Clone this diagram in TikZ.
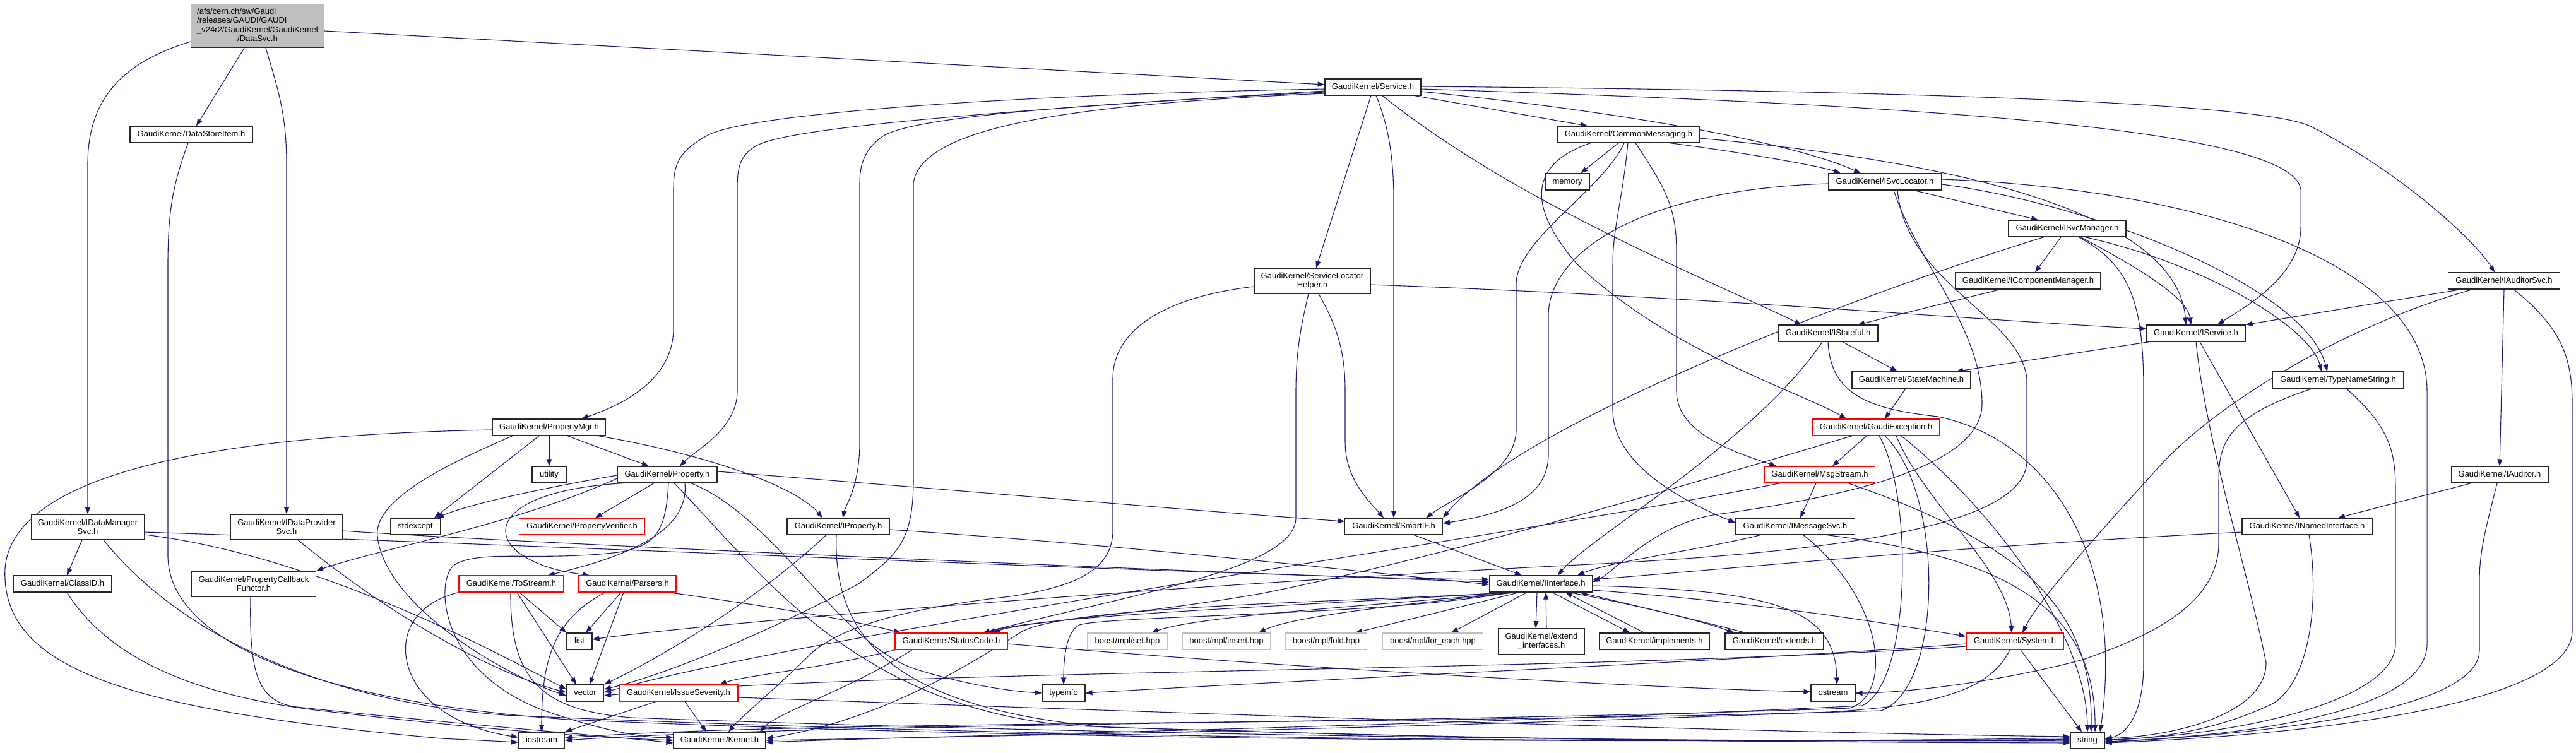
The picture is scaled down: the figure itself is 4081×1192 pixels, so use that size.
\documentclass[tikz,border=0pt]{standalone}
\usepackage{fontspec}
\setmainfont{Liberation Sans}
\usetikzlibrary{arrows.meta,backgrounds}
\definecolor{edgec}{HTML}{191970}
\definecolor{rootgray}{HTML}{BFBFBF}
\definecolor{boxgray}{HTML}{BFBFBF}
\newcommand\nf{\fontsize{13}{14.5}\selectfont}
\tikzset{
 nbase/.style={draw=black!85, line width=1.1pt, fill=white, inner sep=0pt, font=\nf, align=center},
 n/.style={nbase, minimum height=26pt, text height=9.5pt, text depth=2.7pt},
 nn/.style={nbase, minimum height=40pt},
 rb/.style={draw=red},
 gb/.style={draw=boxgray},
 e/.style={draw=edgec, line width=1.1pt, -{Triangle[length=11pt,width=8pt]}},
}
\begin{document}
\begin{tikzpicture}[x=1pt,y=-1pt]
\path[use as bounding box] (0,0) rectangle (4081,1192);
% ---------- nodes ----------
\node[nbase, fill=rootgray, minimum width=211pt, minimum height=69pt] (root) at (408,41)
 {\begin{tabular}{@{}l@{}}/afs/cern.ch/sw/Gaudi\\/releases/GAUDI/GAUDI\\\_v24r2/GaudiKernel/GaudiKernel\\\multicolumn{1}{@{}c@{}}{/DataSvc.h}\end{tabular}};
\node[n, minimum width=152pt] (svc) at (2175,138) {GaudiKernel/Service.h};
\node[n, minimum width=194pt] (dsi) at (303,213) {GaudiKernel/DataStoreItem.h};
\node[n, minimum width=224pt] (cm) at (2580,213) {GaudiKernel/CommonMessaging.h};
\node[n, minimum width=70pt] (memory) at (2483,288) {memory};
\node[n, minimum width=179pt] (isl) at (2986,288) {GaudiKernel/ISvcLocator.h};
\node[n, minimum width=186pt] (ism) at (3275,362) {GaudiKernel/ISvcManager.h};
\node[nn, minimum width=184pt] (slh) at (2079,445) {GaudiKernel/ServiceLocator\\Helper.h};
\node[n, minimum width=230pt] (icm) at (3213,445) {GaudiKernel/IComponentManager.h};
\node[n, minimum width=177pt] (ias) at (3967,445) {GaudiKernel/IAuditorSvc.h};
\node[n, minimum width=158pt] (ist) at (2896,528) {GaudiKernel/IStateful.h};
\node[n, minimum width=156pt] (isv) at (3479,528) {GaudiKernel/IService.h};
\node[n, minimum width=188pt] (sm) at (3028,602) {GaudiKernel/StateMachine.h};
\node[n, minimum width=207pt] (tns) at (3704,602) {GaudiKernel/TypeNameString.h};
\node[n, minimum width=179pt] (pmgr) at (870,677) {GaudiKernel/PropertyMgr.h};
\node[n, rb, minimum width=201pt] (gex) at (2972,677) {GaudiKernel/GaudiException.h};
\node[n, minimum width=54pt] (utility) at (870,752) {utility};
\node[n, minimum width=158pt] (prop) at (1057,752) {GaudiKernel/Property.h};
\node[n, rb, minimum width=175pt] (msg) at (2883,752) {GaudiKernel/MsgStream.h};
\node[n, minimum width=154pt] (iaud) at (3960,752) {GaudiKernel/IAuditor.h};
\node[nn, minimum width=179pt] (dmsvc) at (139,835) {GaudiKernel/IDataManager\\Svc.h};
\node[nn, minimum width=177pt] (dpsvc) at (454,835) {GaudiKernel/IDataProvider\\Svc.h};
\node[n, minimum width=79pt] (stdexcept) at (658,834) {stdexcept};
\node[n, rb, minimum width=199pt] (pver) at (922,834) {GaudiKernel/PropertyVerifier.h};
\node[n, minimum width=162pt] (iprop) at (1328,834) {GaudiKernel/IProperty.h};
\node[n, minimum width=155pt] (smartif) at (2208,834) {GaudiKernel/SmartIF.h};
\node[n, minimum width=189pt] (imsg) at (2844,834) {GaudiKernel/IMessageSvc.h};
\node[n, minimum width=206pt] (inamed) at (3655,834) {GaudiKernel/INamedInterface.h};
\node[n, minimum width=156pt] (classid) at (99,925) {GaudiKernel/ClassID.h};
\node[nn, minimum width=197pt] (pcf) at (402,925) {GaudiKernel/PropertyCallback\\Functor.h};
\node[n, rb, minimum width=166pt] (tostream) at (810,925) {GaudiKernel/ToStream.h};
\node[n, rb, minimum width=154pt] (parsers) at (994,925) {GaudiKernel/Parsers.h};
\node[n, minimum width=163pt] (iint) at (2441,925) {GaudiKernel/IInterface.h};
\node[n, minimum width=40pt] (list) at (918,1016) {list};
\node[n, rb, minimum width=178pt] (sc) at (1507,1016) {GaudiKernel/StatusCode.h};
\node[n, gb, minimum width=127pt] (bset) at (1786,1016) {boost/mpl/set.hpp};
\node[n, gb, minimum width=140pt] (bins) at (1943,1016) {boost/mpl/insert.hpp};
\node[n, gb, minimum width=129pt] (bfold) at (2101,1016) {boost/mpl/fold.hpp};
\node[n, gb, minimum width=159pt] (bfe) at (2270,1016) {boost/mpl/for\_each.hpp};
\node[nn, minimum width=136pt, minimum height=41pt] (eif) at (2442,1016) {GaudiKernel/extend\\\_interfaces.h};
\node[n, minimum width=175pt] (impl) at (2621,1016) {GaudiKernel/implements.h};
\node[n, minimum width=156pt] (extends) at (2811,1016) {GaudiKernel/extends.h};
\node[n, rb, minimum width=154pt] (sys) at (3192,1016) {GaudiKernel/System.h};
\node[n, minimum width=59pt] (vector) at (927,1098) {vector};
\node[n, rb, minimum width=188pt] (isev) at (1075,1098) {GaudiKernel/IssueSeverity.h};
\node[n, minimum width=68pt] (typeinfo) at (1685,1098) {typeinfo};
\node[n, minimum width=70pt] (ostream) at (2904,1098) {ostream};
\node[n, minimum width=73pt] (iostream) at (858,1173) {iostream};
\node[n, minimum width=146pt] (kernel) at (1140,1173) {GaudiKernel/Kernel.h};
\node[n, minimum width=54pt] (string) at (3307,1173) {string};
% ---------- edges ----------
\begin{scope}[on background layer]
% root
\draw[e] ([yshift=-25pt]root.west) .. controls (190,100) and (139,160) .. (139,260) -- (dmsvc.north);
\draw[e] ([xshift=-21pt]root.south) -- ([xshift=8pt]dsi.north);
\draw[e] ([xshift=13pt]root.south) .. controls (440,140) and (454,180) .. (454,260) -- (dpsvc.north);
\draw[e] ([yshift=-8pt]root.east) -- ([yshift=4pt]svc.west);
% dsi
\draw[e] ([xshift=-5pt]dsi.south) .. controls (275,290) and (266,330) .. (266,420) -- (266,880) .. controls (266,1010) and (480,1110) .. (900,1140) .. controls (1800,1180) and (2900,1176) .. ([yshift=4pt]string.west);
% dmsvc
\draw[e] ([xshift=-9pt]dmsvc.south) -- ([xshift=7pt]classid.north);
\draw[e] ([yshift=-8pt]dmsvc.east) .. controls (900,865) and (2000,915) .. ([yshift=7pt]iint.west);
\draw[e] ([yshift=-12pt]dmsvc.east) .. controls (500,880) and (780,1030) .. ([yshift=6pt]vector.west);
\draw[e] ([xshift=25pt]dmsvc.south) .. controls (280,1000) and (500,1110) .. (800,1133) .. controls (1800,1178) and (2900,1176) .. ([yshift=2pt]string.west);
% classid
\draw[e] ([xshift=7pt]classid.south) .. controls (170,1040) and (300,1100) .. (500,1125) .. controls (800,1160) and (950,1168) .. (kernel.west);
% dpsvc
\draw[e] ([yshift=-6pt]dpsvc.east) .. controls (900,865) and (2000,910) .. ([yshift=3pt]iint.west);
\draw[e] ([xshift=18pt]dpsvc.south) .. controls (600,960) and (760,1060) .. ([yshift=1pt]vector.west);
% pmgr
\draw[e] (pmgr.south) -- (utility.north);
\draw[e] ([xshift=29pt]pmgr.south) -- ([xshift=-29pt]prop.north);
\draw[e] ([xshift=78pt]pmgr.south) .. controls (1120,720) and (1260,770) .. ([xshift=-25pt]iprop.north);
\draw[e] ([xshift=-16pt]pmgr.south) -- ([xshift=30pt]stdexcept.north);
\draw[e] ([xshift=-58pt]pmgr.south) .. controls (720,730) and (590,790) .. (598,850) .. controls (610,960) and (800,1070) .. ([yshift=-4pt]vector.west);
\draw[e] ([yshift=-4pt]pmgr.west) .. controls (300,690) and (20,760) .. (8,900) .. controls (0,1060) and (200,1125) .. (700,1170) -- ([yshift=-3pt]iostream.west);
% prop
\draw[e] ([xshift=-21pt]prop.south) -- ([xshift=21pt]pver.north);
\draw[e] ([xshift=28pt]prop.south) .. controls (1092,840) and (1000,880) .. ([xshift=58pt]tostream.north);
\draw[e] ([xshift=-69pt]prop.south) .. controls (740,780) and (760,890) .. ([xshift=-60pt]parsers.north);
\draw[e] ([yshift=-6pt]prop.west) .. controls (820,830) and (600,870) .. (pcf.north east);
\draw[e] ([yshift=-1pt]prop.west) .. controls (850,775) and (740,800) .. ([xshift=34pt]stdexcept.north);
\draw[e] ([xshift=2pt]prop.south) .. controls (1055,840) and (1040,865) .. (980,875) .. controls (850,890) and (760,870) .. (720,895) .. controls (690,915) and (690,1060) .. (860,1125) .. controls (960,1160) and (1030,1170) .. ([yshift=5pt]kernel.west);
\draw[e] ([xshift=11pt]prop.south) .. controls (1200,900) and (1350,1120) .. (1700,1150) .. controls (2500,1178) and (3000,1176) .. ([yshift=-2pt]string.west);
\draw[e] ([xshift=38pt]prop.south) .. controls (1230,820) and (1330,1020) .. (1450,1060) .. controls (1530,1085) and (1600,1095) .. (typeinfo.west);
\draw[e] ([yshift=5pt]prop.east) .. controls (1500,775) and (1900,810) .. ([yshift=8pt]smartif.west);
% iprop
\draw[e] ([yshift=-5pt]iprop.east) .. controls (1800,865) and (2150,905) .. ([yshift=-1pt]iint.west);
\draw[e] ([xshift=-19pt]iprop.south) .. controls (1200,950) and (1050,1040) .. (vector.north east);
\draw[e] ([xshift=-3pt]iprop.south) .. controls (1320,1000) and (1400,1120) .. (1750,1152) .. controls (2500,1176) and (3000,1176) .. ([yshift=-4pt]string.west);
% pcf
\draw[e] ([xshift=-5pt]pcf.south) .. controls (395,1060) and (405,1112) .. (470,1120) .. controls (700,1145) and (950,1165) .. ([yshift=-4pt]kernel.west);
% tostream
\draw[e] ([xshift=13pt]tostream.south) -- (list.north west);
\draw[e] ([xshift=9pt]tostream.south) -- ([xshift=-14pt]vector.north);
\draw[e] (tostream.south west) .. controls (640,960) and (625,1030) .. (660,1085) .. controls (700,1145) and (780,1162) .. ([yshift=5pt]iostream.west);
\draw[e] ([xshift=-1pt]tostream.south) .. controls (808,1080) and (860,1125) .. (1000,1137) .. controls (1900,1170) and (2900,1176) .. (string.west);
% parsers
\draw[e] ([xshift=-10pt]parsers.south) -- ([xshift=10pt]list.north);
\draw[e] ([xshift=-6pt]parsers.south) -- ([xshift=7pt]vector.north);
\draw[e] ([xshift=-35pt]parsers.south) .. controls (880,980) and (858,1040) .. (iostream.north);
\draw[e] ([xshift=65pt]parsers.south) .. controls (1250,965) and (1360,985) .. ([xshift=-80pt]sc.north);
% sc
\draw[e] ([xshift=-89pt]sc.south) .. controls (1300,1060) and (1180,1070) .. ([xshift=65pt]isev.north);
\draw[e] ([xshift=-62pt]sc.south) .. controls (1350,1090) and (1230,1130) .. ([xshift=64pt]kernel.north);
\draw[e] ([yshift=-4pt]sc.east) .. controls (2000,1055) and (2600,1090) .. ([yshift=2pt]ostream.west);
% isev
\draw[e] ([xshift=10pt]isev.south) -- ([xshift=-21pt]kernel.north);
\draw[e] ([xshift=-36pt]isev.south) -- (iostream.north east);
\draw[e] ([yshift=-7pt]isev.east) .. controls (1600,1120) and (2700,1160) .. ([yshift=6pt]string.west);
% iint
\draw[e] ([xshift=-44pt]iint.south) .. controls (2100,955) and (1700,960) .. (1620,1000) .. controls (1540,1050) and (1400,1140) .. ([yshift=3pt]kernel.east);
\draw[e] ([xshift=-47pt]iint.south) .. controls (2050,960) and (1650,975) .. ([xshift=58pt]sc.north);
\draw[e] ([xshift=-50pt]iint.south) .. controls (2200,975) and (1760,975) .. (1710,990) .. controls (1690,1000) and (1685,1040) .. (typeinfo.north);
\draw[e] ([xshift=-42pt]iint.south) .. controls (2200,958) and (1900,975) .. ([xshift=38pt]bset.north);
\draw[e] ([xshift=-38pt]iint.south) .. controls (2250,955) and (2050,975) .. ([xshift=51pt]bins.north);
\draw[e] ([xshift=-34pt]iint.south) -- ([xshift=46pt]bfold.north);
\draw[e] ([xshift=-22pt]iint.south) -- ([xshift=29pt]bfe.north);
\draw[e] ([xshift=-6pt]iint.south) -- ([xshift=-9pt]eif.north);
\draw[e] ([xshift=8pt]eif.north) -- ([xshift=8pt]iint.south);
\draw[e] ([xshift=18pt]iint.south) -- ([xshift=-39pt]impl.north);
\draw[e] ([xshift=-16pt]impl.north) -- ([xshift=39pt]iint.south);
\draw[e] ([xshift=45pt]iint.south) .. controls (2600,960) and (2700,985) .. ([xshift=-64pt]extends.north);
\draw[e] ([xshift=-46pt]extends.north) .. controls (2700,985) and (2600,962) .. ([xshift=62pt]iint.south);
\draw[e] ([yshift=-3pt]iint.east) .. controls (2800,935) and (2908,960) .. ([xshift=6pt]ostream.north);
\draw[e] ([yshift=-10pt]iint.east) .. controls (2800,955) and (3000,990) .. ([yshift=8pt]sys.west);
% smartif
\draw[e] ([xshift=32pt]smartif.south) -- ([xshift=-30pt]iint.north);
% sys
\draw[e] ([xshift=-8pt]sys.south) .. controls (3150,1100) and (3050,1118) .. (2900,1128) .. controls (2200,1155) and (1500,1168) .. (kernel.east);
\draw[e] ([xshift=9pt]sys.south) -- ([xshift=-9pt]string.north);
\draw[e] ([yshift=-4pt]sys.west) .. controls (2800,1045) and (2100,1075) .. (typeinfo.east);
\draw[e] ([yshift=-8pt]sys.west) .. controls (2500,1065) and (1400,1060) .. ([yshift=-4pt]vector.east);
% gex
\draw[e] ([xshift=-15pt]gex.south) -- ([xshift=20pt]msg.north);
\draw[e] ([xshift=-38pt]gex.south) .. controls (2700,760) and (2300,880) .. (2000,940) .. controls (1800,975) and (1620,985) .. ([xshift=66pt]sc.north);
\draw[e] ([xshift=5pt]gex.south) .. controls (3030,780) and (3030,1080) .. (2950,1118) .. controls (2300,1150) and (1500,1165) .. ([yshift=-3pt]kernel.east);
\draw[e] ([xshift=14pt]gex.south) .. controls (3080,780) and (3080,1090) .. (2980,1126) .. controls (2200,1150) and (1300,1140) .. ([yshift=4pt]iostream.east);
\draw[e] ([xshift=32pt]gex.south) .. controls (3050,800) and (3180,900) .. ([xshift=-5pt]sys.north);
\draw[e] ([xshift=40pt]gex.south) .. controls (3150,800) and (3305,1000) .. (string.north);
% sm
\draw[e] ([xshift=-9pt]sm.south) -- ([xshift=14pt]gex.north);
% msg
\draw[e] ([xshift=-6pt]msg.south) -- ([xshift=8pt]imsg.north);
\draw[e] ([xshift=45pt]msg.south) .. controls (3200,860) and (3315,960) .. ([xshift=6pt]string.north);
\draw[e] ([xshift=-63pt]msg.south) .. controls (2400,850) and (1300,1000) .. ([yshift=1pt]vector.east);
% imsg
\draw[e] ([xshift=-55pt]imsg.south) .. controls (2700,870) and (2550,890) .. ([xshift=58pt]iint.north);
\draw[e] ([xshift=50pt]imsg.south) .. controls (3150,880) and (3320,950) .. ([xshift=12pt]string.north);
\draw[e] ([xshift=13pt]imsg.south) .. controls (2985,950) and (3000,1100) .. (2930,1122) .. controls (2200,1148) and (1300,1145) .. (iostream.east);
% ist
\draw[e] ([xshift=23pt]ist.south) -- ([xshift=-22pt]sm.north);
\draw[e] ([xshift=-9pt]ist.south) .. controls (2780,700) and (2520,850) .. ([xshift=27pt]iint.north);
\draw[e] (ist.south) .. controls (2900,625) and (2960,648) .. (3070,660) .. controls (3260,700) and (3365,900) .. ([xshift=20pt]string.north);
% icm
\draw[e] ([xshift=-44pt]icm.south) -- ([xshift=47pt]ist.north);
% ism
\draw[e] ([xshift=-10pt]ism.south) -- ([xshift=11pt]icm.north);
\draw[e] ([xshift=-37pt]ism.south) .. controls (2900,480) and (2400,680) .. (smartif.north east);
\draw[e] ([xshift=21pt]ism.south) .. controls (3380,420) and (3465,470) .. ([xshift=-8pt]isv.north);
\draw[e] ([xshift=28pt]ism.south) .. controls (3500,420) and (3660,520) .. ([xshift=-26pt]tns.north);
\draw[e] ([xshift=18pt]ism.south) .. controls (3375,420) and (3396,480) .. (3396,620) -- (3396,1050) .. controls (3396,1130) and (3370,1163) .. ([yshift=2pt]string.east);
% isl
\draw[e] ([xshift=46pt]isl.south) -- ([xshift=-46pt]ism.north);
\draw[e] ([yshift=-3pt]isl.west) .. controls (2600,300) and (2453,400) .. (2453,500) -- (2453,720) .. controls (2453,790) and (2380,815) .. ([yshift=5pt]smartif.east);
\draw[e] ([xshift=14pt]isl.south) .. controls (3040,420) and (3140,520) .. (3140,640) .. controls (3140,745) and (2900,790) .. (2720,815) .. controls (2620,830) and (2560,905) .. ([yshift=3pt]iint.east);
\draw[e] ([xshift=20pt]isl.south) .. controls (3020,450) and (3200,500) .. (3211,600) -- (3211,730) .. controls (3211,850) and (2800,880) .. (2500,895) .. controls (1800,930) and (1100,990) .. ([yshift=3pt]list.east);
\draw[e] ([yshift=-4pt]isl.east) .. controls (3300,320) and (3650,450) .. ([xshift=-17pt]tns.north);
\draw[e] ([yshift=4pt]isl.east) .. controls (3500,300) and (3845,420) .. (3845,620) -- (3845,1020) .. controls (3845,1140) and (3500,1168) .. ([yshift=-2pt]string.east);
% cm
\draw[e] ([xshift=-16pt]cm.south) -- ([xshift=21pt]memory.north);
\draw[e] ([xshift=65pt]cm.south) .. controls (2750,240) and (2880,262) .. ([xshift=-70pt]isl.north);
\draw[e] ([yshift=-6pt]cm.east) .. controls (3150,260) and (3450,350) .. ([xshift=-16pt]isv.north);
\draw[e] ([xshift=11pt]cm.south) .. controls (2640,300) and (2656,330) .. (2656,400) -- (2656,620) .. controls (2656,690) and (2760,720) .. ([xshift=-69pt]msg.north);
\draw[e] ([xshift=-1pt]cm.south) .. controls (2570,320) and (2555,360) .. (2555,420) -- (2555,650) .. controls (2555,740) and (2680,800) .. ([yshift=6pt]imsg.west);
\draw[e] ([xshift=-7pt]cm.south) .. controls (2540,300) and (2402,380) .. (2402,450) -- (2402,680) .. controls (2402,750) and (2300,790) .. ([xshift=51pt]smartif.north);
\draw[e] ([xshift=-60pt]cm.south) .. controls (2420,260) and (2420,330) .. (2500,420) .. controls (2650,560) and (2850,620) .. ([xshift=-47pt]gex.north);
% svc
\draw[e] ([xshift=-3pt]svc.south) -- ([xshift=6pt]slh.north);
\draw[e] ([xshift=5pt]svc.south) .. controls (2200,200) and (2208,250) .. (2208,320) -- (smartif.north);
\draw[e] ([xshift=15pt]svc.south) .. controls (2400,320) and (2700,440) .. ([xshift=-42pt]ist.north);
\draw[e] ([xshift=66pt]svc.south) -- ([xshift=-65pt]cm.north);
\draw[e] ([yshift=-7pt]svc.east) .. controls (2600,180) and (2850,230) .. ([xshift=-38pt]isl.north);
\draw[e] ([yshift=-3pt]svc.east) .. controls (3000,165) and (3630,200) .. (3645,300) -- (3645,360) .. controls (3645,440) and (3550,490) .. ([xshift=34pt]isv.north);
\draw[e] ([yshift=1pt]svc.east) .. controls (3200,145) and (3600,170) .. (3660,200) .. controls (3800,270) and (3920,380) .. ([xshift=-15pt]ias.north);
\draw[e] ([yshift=-3pt]svc.west) .. controls (1600,150) and (1180,180) .. (1120,215) .. controls (1075,240) and (1067,260) .. (1067,300) -- (1067,520) .. controls (1067,600) and (990,640) .. ([xshift=51pt]pmgr.north);
\draw[e] ([yshift=-6pt]svc.west) .. controls (1500,180) and (1250,205) .. (1200,230) .. controls (1172,245) and (1168,265) .. (1168,300) -- (1168,620) .. controls (1168,680) and (1100,715) .. ([xshift=20pt]prop.north);
\draw[e] ([yshift=-8pt]svc.west) .. controls (1600,170) and (1440,192) .. (1400,215) .. controls (1370,235) and (1362,260) .. (1362,290) -- (1362,700) .. controls (1362,770) and (1340,800) .. ([xshift=7pt]iprop.north);
\draw[e] ([yshift=-10pt]svc.west) .. controls (1700,165) and (1460,200) .. (1447,290) -- (1447,760) .. controls (1447,860) and (1420,880) .. (1360,925) .. controls (1200,1010) and (1050,1070) .. ([yshift=6pt]vector.east);
% slh
\draw[e] ([yshift=-6pt]slh.east) .. controls (2700,470) and (3100,505) .. ([yshift=7pt]isv.west);
\draw[e] ([xshift=10pt]slh.south) .. controls (2120,520) and (2131,560) .. (2131,620) -- (2131,700) .. controls (2131,760) and (2170,795) .. ([xshift=-16pt]smartif.north);
\draw[e] ([xshift=-6pt]slh.south) .. controls (2060,520) and (2053,560) .. (2053,620) -- (2053,820) .. controls (2053,900) and (1800,940) .. ([xshift=50pt]sc.north);
\draw[e] ([yshift=-9pt]slh.west) .. controls (1850,470) and (1763,520) .. (1763,600) -- (1763,840) .. controls (1763,905) and (1700,930) .. (1600,945) .. controls (1450,962) and (1330,990) .. (1280,1040) .. controls (1230,1090) and (1180,1130) .. ([xshift=14pt]kernel.north);
% ias
\draw[e] ([xshift=-68pt]ias.south) -- (isv.north east);
\draw[e] ([xshift=-50pt]ias.south) .. controls (3700,520) and (3500,650) .. (3420,740) .. controls (3320,850) and (3230,950) .. ([xshift=12pt]sys.north);
\draw[e] (ias.south) -- (iaud.north);
\draw[e] ([xshift=15pt]ias.south) .. controls (4060,520) and (4075,570) .. (4075,640) -- (4075,1000) .. controls (4075,1110) and (3700,1163) .. ([yshift=-4pt]string.east);
% iaud
\draw[e] ([xshift=-45pt]iaud.south) -- ([xshift=49pt]inamed.north);
\draw[e] ([xshift=-4pt]iaud.south) .. controls (3940,830) and (3928,870) .. (3928,920) -- (3928,1030) .. controls (3928,1125) and (3600,1162) .. ([yshift=-3pt]string.east);
% inamed
\draw[e] ([yshift=-9pt]inamed.west) .. controls (3100,865) and (2700,905) .. ([yshift=7pt]iint.east);
\draw[e] ([xshift=3pt]inamed.south) .. controls (3675,950) and (3660,1080) .. (3600,1115) .. controls (3500,1163) and (3400,1170) .. (string.east);
% isv
\draw[e] ([xshift=6pt]isv.south) -- ([xshift=-12pt]inamed.north);
\draw[e] ([xshift=-74pt]isv.south) -- ([xshift=71pt]sm.north);
\draw[e] (isv.south) .. controls (3495,700) and (3560,900) .. (3590,1050) .. controls (3590,1130) and (3450,1166) .. ([yshift=3pt]string.east);
% tns
\draw[e] ([xshift=13pt]tns.south) .. controls (3790,680) and (3795,720) .. (3795,780) -- (3795,1020) .. controls (3795,1110) and (3550,1165) .. ([yshift=1pt]string.east);
\draw[e] ([xshift=-41pt]tns.south) .. controls (3530,660) and (3515,700) .. (3515,760) -- (3515,860) .. controls (3515,960) and (3400,1010) .. (3300,1045) .. controls (3150,1085) and (3000,1098) .. (ostream.east);
\end{scope}
\end{tikzpicture}
\end{document}
